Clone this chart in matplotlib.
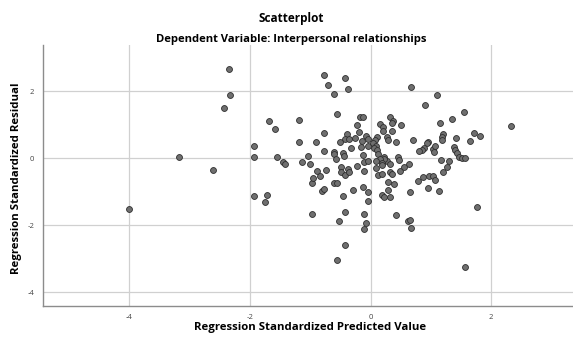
import matplotlib
matplotlib.use("Agg")
import matplotlib.pyplot as plt

# Regression standardized predicted value (x) / residual (y)
pred = [-4.01, -2.35, -2.33, -2.43, -3.18, -2.62, -1.94, -1.71, -1.75,
        -0.77, -0.42, -0.71, -0.38, -0.61, -0.55, -1.68, -1.19, -1.58, -0.78,
        -0.17, -0.13, -0.23, -0.19, -0.39, -0.42, -0.35, -0.25, -0.08, -0.04,
        -0.51, -0.90, -1.19, -0.14, -0.16, -0.32, -0.05, -0.78, -0.61, -0.61,
        -0.45, -0.44, -0.58, -1.03, -1.55, -0.12, -0.10, -0.04, -1.45, -1.42,
        -1.13, -1.00, -1.94, -1.94,
        -0.88, -0.84, -0.97, -0.95, -0.74, -0.81, -0.77, -0.61, -0.55, -0.45,
        -0.29, -0.49, -0.49, -0.42, -0.38, -0.35, -0.22, -0.10, -0.13, -0.04,
        -0.04, -0.97, -0.42, -0.52, -0.10, -0.07, -0.10, -0.42, -0.55,
        0.68, 1.10, 0.91, 1.55, 1.16, 1.36, 0.33, 0.38, 0.35, 0.16, 0.20, 0.51,
        0.20, 0.35, 0.10, 0.07, 0.28, 0.29, 0.43, 0.71, 1.21, 1.19, 1.19, 1.42,
        1.65, 0.96, 0.94, 0.88, 0.85, 0.81, 1.03, 1.07, 1.06, 1.39, 1.41, 1.43,
        1.46, 1.52, 1.56, 1.17, 1.30, 0.04, 0.09, 0.06, 0.11, 0.13, 0.23, 0.27,
        0.22, 0.15, 0.45, 0.48, 0.09, 0.19, 0.33, 0.64, 2.33, 1.82, 1.71,
        0.09, 0.19, 0.13, 0.19, 0.32, 0.36, 0.49, 0.55, 0.29, 0.39, 0.29, 0.19,
        0.23, 0.33, 0.65, 0.79, 0.87, 0.97, 1.04, 1.07, 0.95, 1.13, 1.21, 1.27,
        0.42, 0.62, 0.66, 0.68, 1.56, 1.77]
resid = [-1.52, 2.66, 1.89, 1.49, 0.03, -0.35, -1.12, -1.10, -1.31,
         2.48, 2.38, 2.17, 2.06, 1.91, 1.31, 1.12, 1.14, 0.88, 0.76,
         1.22, 1.24, 0.99, 0.79, 0.73, 0.57, 0.58, 0.61, 0.66, 0.58,
         0.47, 0.49, 0.47, 0.50, 0.33, 0.30, 0.35, 0.22, 0.18, 0.11,
         0.15, 0.07, -0.01, 0.07, 0.03, 0.10, -0.10, -0.07, -0.12, -0.18,
         -0.12, -0.18, 0.37, 0.04,
         -0.37, -0.53, -0.74, -0.60, -0.35, -0.97, -0.91, -0.74, -0.74, -1.12,
         -0.96, -0.26, -0.40, -0.50, -0.32, -0.40, -0.24, -0.37, -0.86, -1.01,
         -1.27, -1.66, -1.62, -1.87, -1.66, -1.94, -2.12, -2.59, -3.04,
         2.12, 1.88, 1.59, 1.37, 1.05, 1.16, 1.23, 1.11, 1.05, 1.02, 0.93, 0.99,
         0.81, 0.82, 0.64, 0.53, 0.64, 0.55, 0.47, 0.53, 0.73, 0.64, 0.55, 0.60,
         0.52, 0.48, 0.45, 0.30, 0.25, 0.20, 0.28, 0.36, 0.18, 0.34, 0.23, 0.15,
         0.05, 0.02, 0.02, -0.05, -0.08, 0.45, 0.37, 0.30, 0.25, 0.12, 0.05, -0.08,
         -0.02, -0.02, 0.05, -0.05, -0.07, -0.13, -0.16, -0.16, 0.96, 0.67, 0.76,
         -0.29, -0.20, -0.49, -0.48, -0.42, -0.47, -0.39, -0.25, -0.71, -0.78, -0.96, -1.10,
         -1.16, -1.16, -1.01, -0.67, -0.56, -0.52, -0.54, -0.64, -0.90, -0.97, -0.42, -0.25,
         -1.70, -1.87, -1.84, -2.08, -3.24, -1.47]

ticks = [-4, -2, 0, 2]
tick_labels = ["-4", "-2", "0", "2"]

plt.rcParams['font.family'] = ['Open Sans', 'DejaVu Sans']

fig = plt.figure(figsize=(5.73, 3.43), dpi=100)
ax = fig.add_axes([0.0745, 0.109, 0.9255, 0.76])

ax.scatter(pred, resid, s=18, facecolor="#6f6f6f", edgecolor="#2e2e2e",
           linewidth=0.6, zorder=3)

ax.set_xlim(-5.44, 3.36)
ax.set_ylim(-4.4, 3.38)
ax.set_xticks(ticks)
ax.set_xticklabels(tick_labels)
ax.set_yticks(ticks)
ax.set_yticklabels(tick_labels)
ax.grid(True, color="#d0d0d0", linewidth=0.9)
ax.set_axisbelow(True)
ax.tick_params(length=0, labelsize=5.5, colors="#444444", pad=6)

for side in ["top", "right"]:
    ax.spines[side].set_visible(False)
for side in ["left", "bottom"]:
    ax.spines[side].set_color("#8c8c8c")
    ax.spines[side].set_linewidth(1.0)

ax.set_xlabel("Regression Standardized Predicted Value", fontsize=8.2,
              fontweight="bold", va="center")
ax.xaxis.set_label_coords(0.504, -0.084)
ax.set_ylabel("Regression Standardized Residual", fontsize=8.2,
              fontweight="bold", va="center")
ax.yaxis.set_label_coords(-0.05, 0.49)

fig.text(0.509, 0.947, "Scatterplot", ha="center", va="center",
         fontsize=8.5, fontweight="bold")
fig.text(0.509, 0.885, "Dependent Variable: Interpersonal relationships",
         ha="center", va="center", fontsize=8.1, fontweight="bold")

fig.savefig("out.png", dpi=100)
